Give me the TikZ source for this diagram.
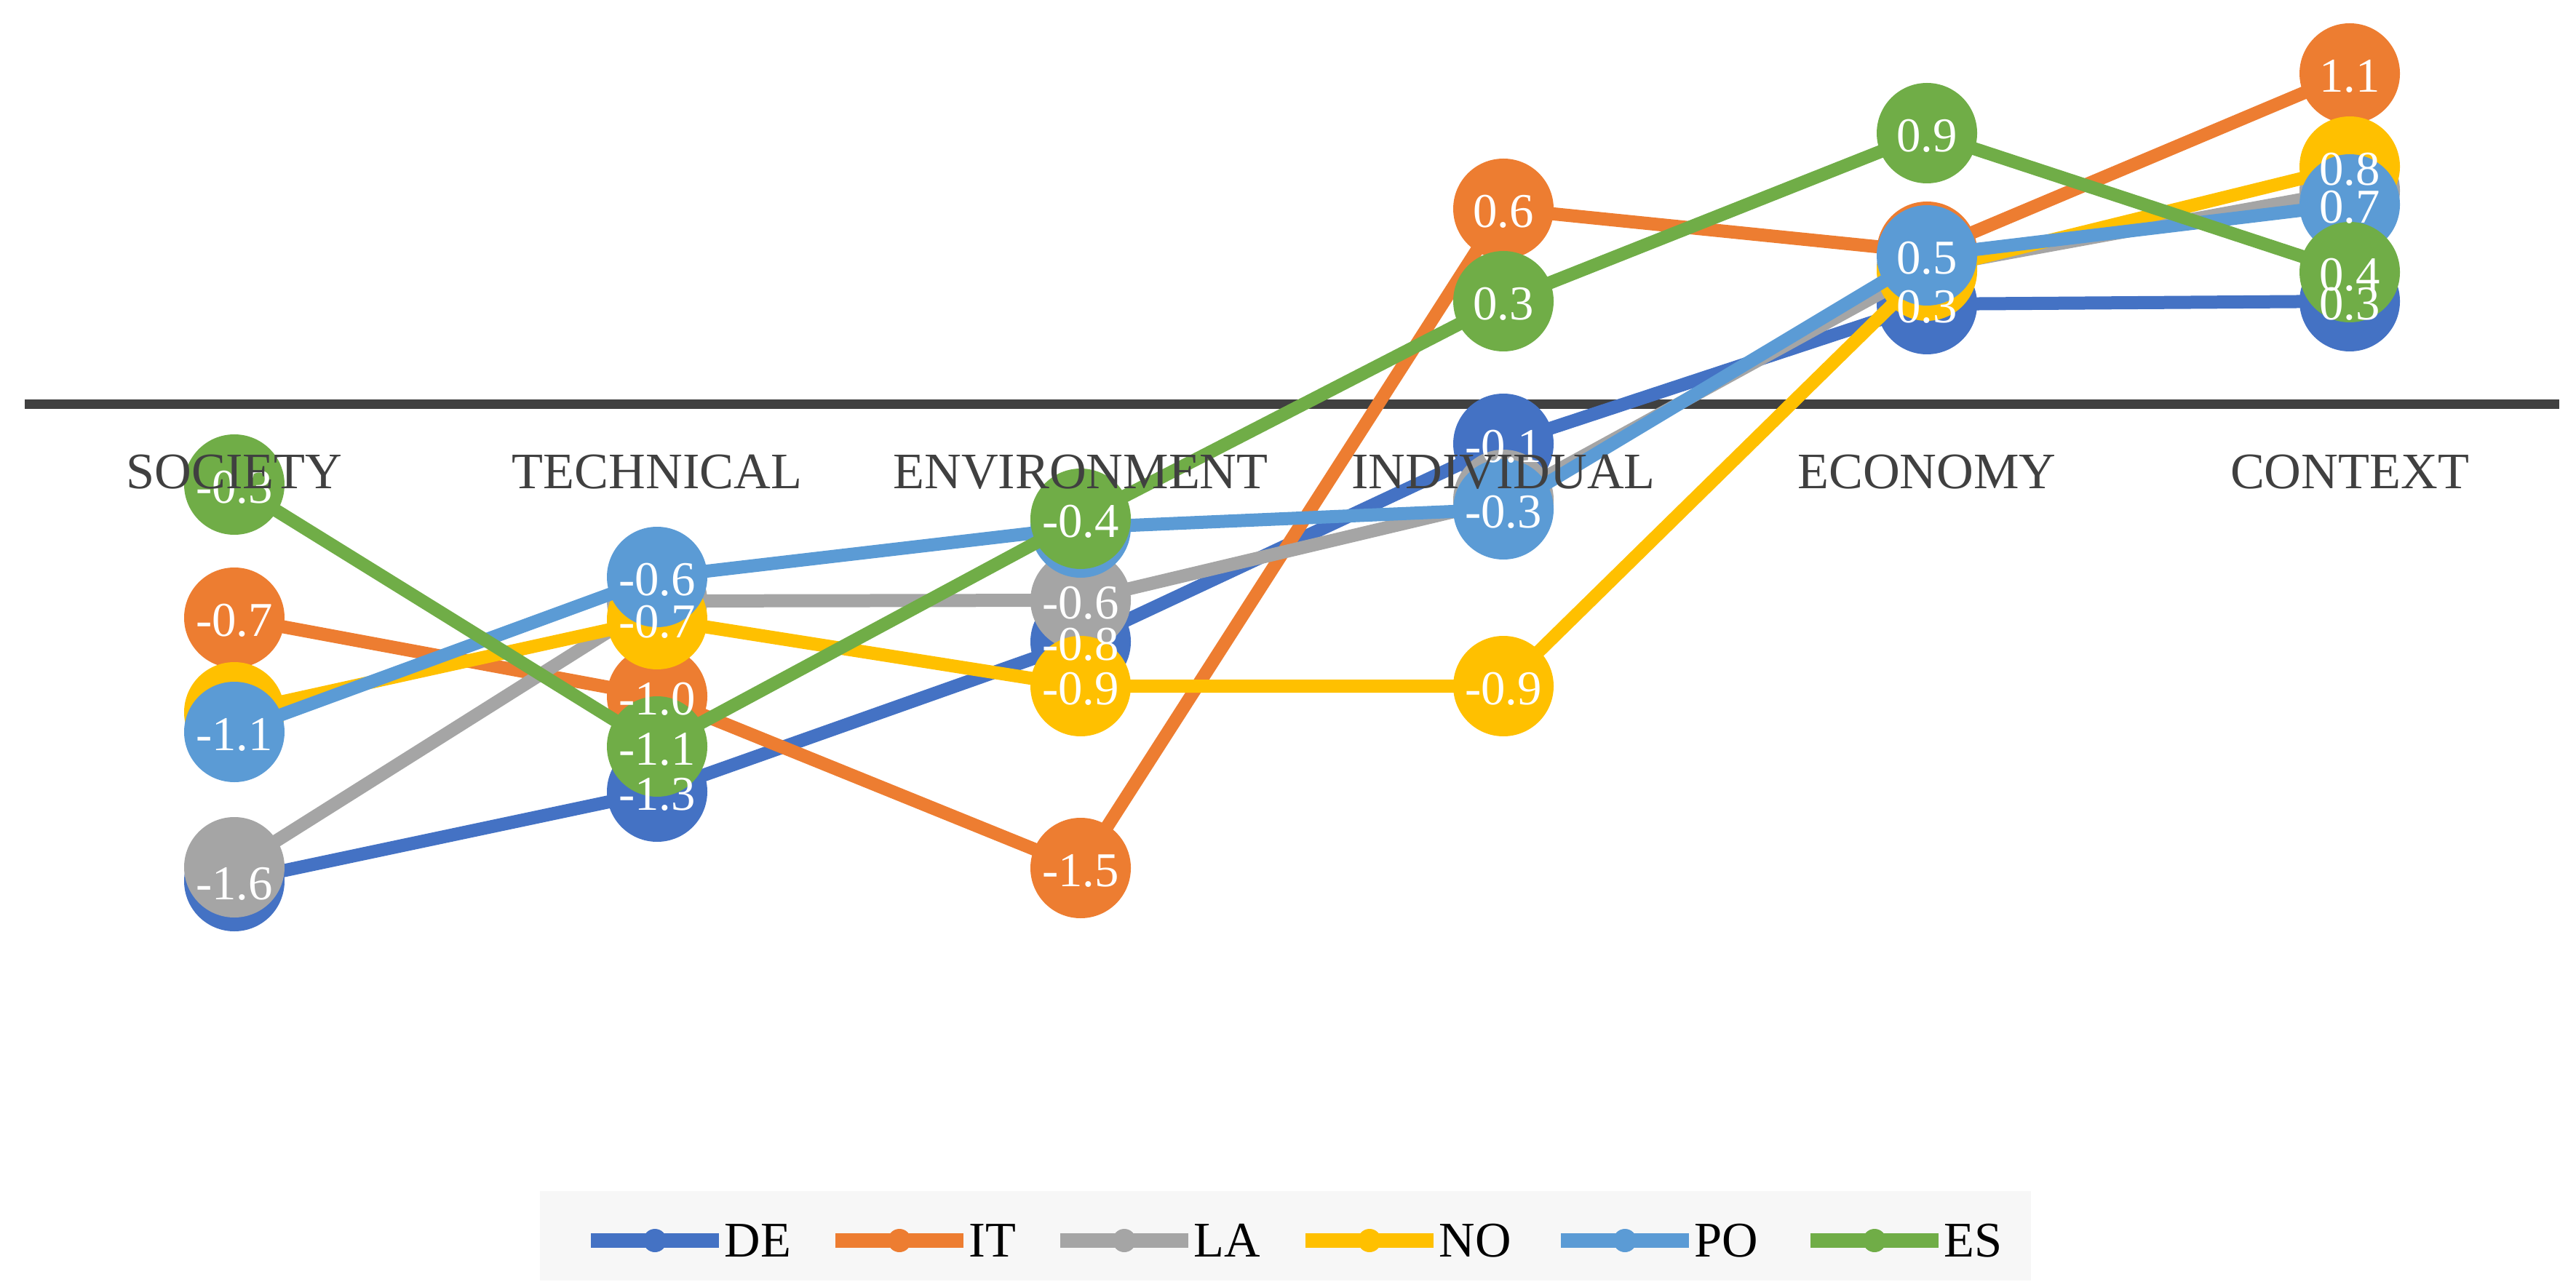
\documentclass[tikz,border=0pt]{standalone}
\usepackage{fontspec}
\setmainfont{Liberation Serif}
\usetikzlibrary{positioning}
\definecolor{deblue}{HTML}{4472C4}
\definecolor{itorange}{HTML}{ED7D31}
\definecolor{lagray}{HTML}{A5A5A5}
\definecolor{noyellow}{HTML}{FFC000}
\definecolor{poblue}{HTML}{5B9BD5}
\definecolor{esgreen}{HTML}{70AD47}
\definecolor{axisgray}{HTML}{404040}
\definecolor{legbg}{HTML}{F7F7F7}
\tikzset{
  serie/.style={line width=0.18cm, line join=round},
  pt/.style={circle, fill=#1, inner sep=0pt, minimum size=1.38cm},
  val/.style={text=white, inner sep=0pt, yshift=-0.04cm, font=\fontsize{19}{22}\selectfont},
  cat/.style={text=axisgray, inner sep=0pt, anchor=base, font=\fontsize{20}{24}\selectfont},
  legline/.style={line width=0.2cm},
  legdot/.style={circle, fill=#1, inner sep=0pt, minimum size=0.32cm},
  legtext/.style={inner sep=0pt, font=\fontsize{19.5}{22}\selectfont}
}

\begin{document}
\begin{tikzpicture}
  \useasboundingbox (0,-12.05) rectangle (35.40,5.56);

  % axis
  \coordinate (axl) at (0.34,0);
  \coordinate (axr) at (35.17,0);
  \draw[line width=0.13cm, axisgray] (axl) -- (axr);

  % DE
  \coordinate (de1) at (3.22,-6.55);
  \coordinate (de2) at (9.03,-5.32);
  \coordinate (de3) at (14.85,-3.26);
  \coordinate (de4) at (20.66,-0.54);
  \coordinate (de5) at (26.48,1.38);
  \coordinate (de6) at (32.29,1.42);
  \draw[serie, deblue] (de1) -- (de2) -- (de3) -- (de4) -- (de5) -- (de6);
  \foreach \p in {de1,de2,de3,de4,de5,de6}
    \node[pt=deblue] (m\p) at (\p) {};

  % IT
  \coordinate (it1) at (3.22,-2.93);
  \coordinate (it2) at (9.03,-4.01);
  \coordinate (it3) at (14.85,-6.37);
  \coordinate (it4) at (20.66,2.69);
  \coordinate (it5) at (26.48,2.10);
  \coordinate (it6) at (32.29,4.55);
  \draw[serie, itorange] (it1) -- (it2) -- (it3) -- (it4) -- (it5) -- (it6);
  \foreach \p in {it1,it2,it3,it4,it5,it6}
    \node[pt=itorange] (m\p) at (\p) {};

  % LA
  \coordinate (la1) at (3.22,-6.36);
  \coordinate (la2) at (9.03,-2.70);
  \coordinate (la3) at (14.85,-2.69);
  \coordinate (la4) at (20.66,-1.31);
  \coordinate (la5) at (26.48,1.88);
  \coordinate (la6) at (32.29,2.94);
  \draw[serie, lagray] (la1) -- (la2) -- (la3) -- (la4) -- (la5) -- (la6);
  \foreach \p in {la1,la2,la3,la4,la5,la6}
    \node[pt=lagray] (m\p) at (\p) {};

  % NO
  \coordinate (no1) at (3.22,-4.23);
  \coordinate (no2) at (9.03,-2.95);
  \coordinate (no3) at (14.85,-3.87);
  \coordinate (no4) at (20.66,-3.87);
  \coordinate (no5) at (26.48,1.84);
  \coordinate (no6) at (32.29,3.27);
  \draw[serie, noyellow] (no1) -- (no2) -- (no3) -- (no4) -- (no5) -- (no6);
  \foreach \p in {no1,no2,no3,no4,no5,no6}
    \node[pt=noyellow] (m\p) at (\p) {};

  % PO
  \coordinate (po1) at (3.22,-4.50);
  \coordinate (po2) at (9.03,-2.37);
  \coordinate (po3) at (14.85,-1.69);
  \coordinate (po4) at (20.66,-1.44);
  \coordinate (po5) at (26.48,2.05);
  \coordinate (po6) at (32.29,2.75);
  \draw[serie, poblue] (po1) -- (po2) -- (po3) -- (po4) -- (po5) -- (po6);
  \foreach \p in {po1,po2,po3,po4,po5,po6}
    \node[pt=poblue] (m\p) at (\p) {};

  % ES
  \coordinate (es1) at (3.22,-1.10);
  \coordinate (es2) at (9.03,-4.70);
  \coordinate (es3) at (14.85,-1.57);
  \coordinate (es4) at (20.66,1.42);
  \coordinate (es5) at (26.48,3.73);
  \coordinate (es6) at (32.29,1.82);
  \draw[serie, esgreen] (es1) -- (es2) -- (es3) -- (es4) -- (es5) -- (es6);
  \foreach \p in {es1,es2,es3,es4,es5,es6}
    \node[pt=esgreen] (m\p) at (\p) {};

  % values
  \node[val] (lde1) at (de1) {-1.6};
  \node[val] (lit1) at (it1) {-0.7};
  \node[val] (lpo1) at (po1) {-1.1};
  \node[val] (les1) at (es1) {-0.3};

  \node[val] (lde2) at (de2) {-1.3};
  \node[val] (lit2) at (it2) {-1.0};
  \node[val] (lno2) at (no2) {-0.7};
  \node[val] (lpo2) at (po2) {-0.6};
  \node[val] (les2) at (es2) {-1.1};

  \node[val] (lde3) at (de3) {-0.8};
  \node[val] (lit3) at (it3) {-1.5};
  \node[val] (lla3) at (la3) {-0.6};
  \node[val] (lno3) at (no3) {-0.9};
  \node[val] (les3) at (es3) {-0.4};

  \node[val] (lde4) at (de4) {-0.1};
  \node[val] (lit4) at (it4) {0.6};
  \node[val] (lno4) at (no4) {-0.9};
  \node[val] (lpo4) at (po4) {-0.3};
  \node[val] (les4) at (es4) {0.3};

  \node[val] (lde5) at (de5) {0.3};
  \node[val] (lpo5) at (po5) {0.5};
  \node[val] (les5) at (es5) {0.9};

  \node[val] (lde6) at (de6) {0.3};
  \node[val] (lit6) at (it6) {1.1};
  \node[val] (lno6) at (no6) {0.8};
  \node[val] (lpo6) at (po6) {0.7};
  \node[val] (les6) at (es6) {0.4};

  % categories
  \node[cat] (soc) at (3.22,-1.16) {SOCIETY};
  \node[cat] (tec) at (9.03,-1.16) {TECHNICAL};
  \node[cat] (env) at (14.85,-1.16) {ENVIRONMENT};
  \node[cat] (ind) at (20.66,-1.16) {INDIVIDUAL};
  \node[cat] (eco) at (26.48,-1.16) {ECONOMY};
  \node[cat] (con) at (32.29,-1.16) {CONTEXT};

  % legend
  \node[fill=legbg, inner sep=0pt, minimum width=20.49cm, minimum height=1.23cm] (legend) at (17.665,-11.425) {};

  \coordinate (dea) at (8.12,-11.49);
  \coordinate (deb) at (9.88,-11.49);
  \draw[legline, deblue] (dea) -- (deb);
  \node[legdot=deblue] (ddot) at (9.00,-11.49) {};
  \node[legtext, right=0.07cm of deb] (tde) {DE};

  \coordinate (ita) at (11.48,-11.49);
  \coordinate (itb) at (13.24,-11.49);
  \draw[legline, itorange] (ita) -- (itb);
  \node[legdot=itorange] (idot) at (12.36,-11.49) {};
  \node[legtext, right=0.07cm of itb] (tit) {IT};

  \coordinate (laa) at (14.57,-11.49);
  \coordinate (lab) at (16.33,-11.49);
  \draw[legline, lagray] (laa) -- (lab);
  \node[legdot=lagray] (ldot) at (15.45,-11.49) {};
  \node[legtext, right=0.07cm of lab] (tla) {LA};

  \coordinate (noa) at (17.94,-11.49);
  \coordinate (nob) at (19.70,-11.49);
  \draw[legline, noyellow] (noa) -- (nob);
  \node[legdot=noyellow] (ndot) at (18.82,-11.49) {};
  \node[legtext, right=0.07cm of nob] (tno) {NO};

  \coordinate (poa) at (21.45,-11.49);
  \coordinate (pob) at (23.21,-11.49);
  \draw[legline, poblue] (poa) -- (pob);
  \node[legdot=poblue] (pdot) at (22.33,-11.49) {};
  \node[legtext, right=0.07cm of pob] (tpo) {PO};

  \coordinate (esa) at (24.88,-11.49);
  \coordinate (esb) at (26.64,-11.49);
  \draw[legline, esgreen] (esa) -- (esb);
  \node[legdot=esgreen] (edot) at (25.76,-11.49) {};
  \node[legtext, right=0.07cm of esb] (tes) {ES};
\end{tikzpicture}
\end{document}
